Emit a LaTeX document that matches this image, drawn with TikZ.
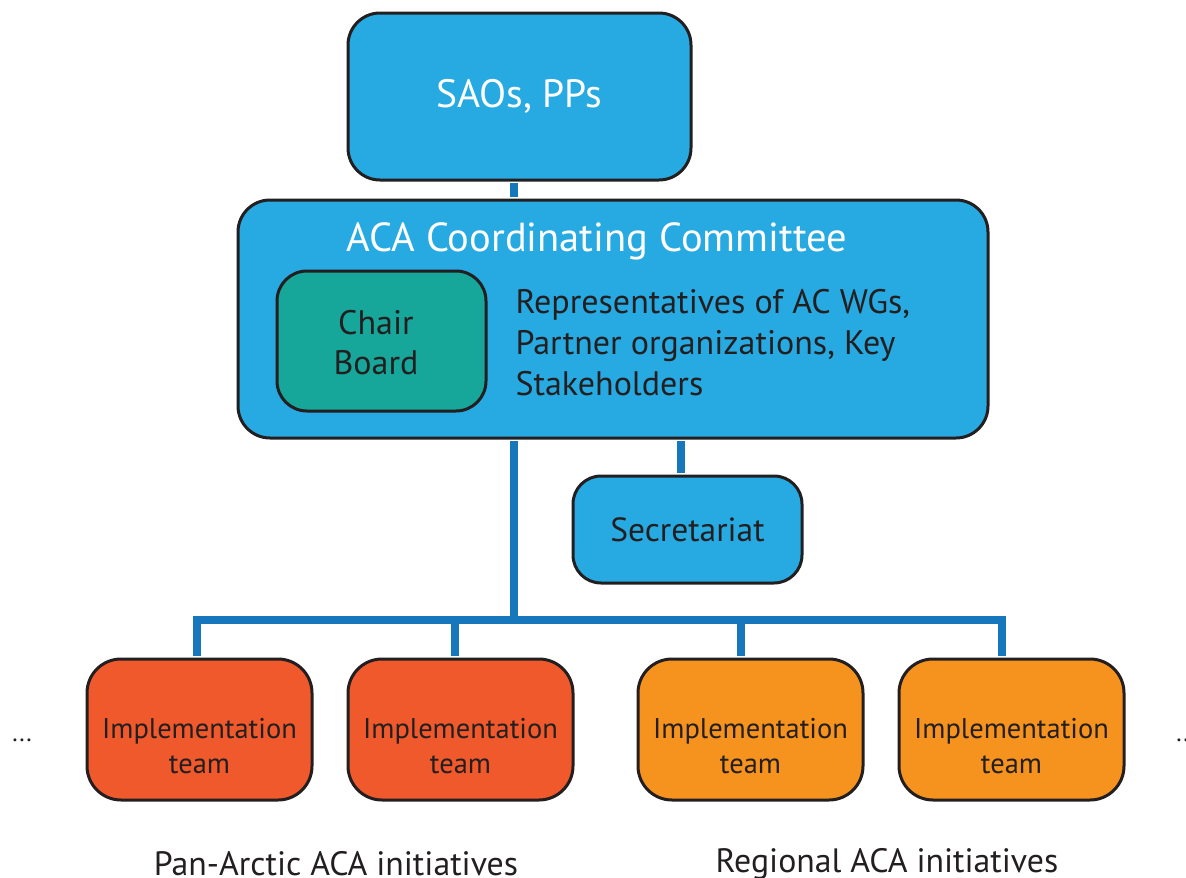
\documentclass[tikz,border=0pt]{standalone}
\usepackage{fontspec}
\setmainfont{PT Sans}
\definecolor{boxblue}{HTML}{27AAE1}
\definecolor{linkblue}{HTML}{1777BC}
\definecolor{teal}{HTML}{17A79A}
\definecolor{redor}{HTML}{F0592B}
\definecolor{orange}{HTML}{F6931F}
\definecolor{ink}{HTML}{231F20}
\tikzset{
  basebox/.style={draw=ink, line width=3pt, rounded corners=32pt, inner sep=0pt},
  bluebox/.style={basebox, fill=boxblue},
  tealbox/.style={basebox, fill=teal, rounded corners=30pt},
  teambox/.style={basebox, minimum width=225pt, minimum height=141pt, rounded corners=34pt},
  redbox/.style={teambox, fill=redor},
  orbox/.style={teambox, fill=orange},
  conn/.style={draw=linkblue, line width=8pt},
  teamtext/.style={text=ink, align=center, font=\fontsize{28.5}{35}\selectfont},
  darktext/.style={text=ink, font=\fontsize{34}{41}\selectfont},
}
\begin{document}
\begin{tikzpicture}[x=1pt, y=-1pt]
\useasboundingbox (0,0) rectangle (1186,878);
% boxes
\node[bluebox, minimum width=343pt, minimum height=167pt, text=white,
      font=\fontsize{39.5}{44}\selectfont] (sao) at (519.5,96.5) {SAOs, PPs};
\node[bluebox, minimum width=750pt, minimum height=238pt] (aca) at (613,319) {};
\node[text=white, font=\fontsize{40.5}{46}\selectfont] (acat) at (597,241) {ACA Coordinating Committee};
\node[tealbox, minimum width=209pt, minimum height=140pt] (chair) at (381.5,341) {};
\node[darktext, align=center, font=\fontsize{34}{40}\selectfont] (chairt) at (376,343) {Chair\\Board};
\node[darktext, align=left, anchor=west] (reps) at (512,343)
  {Representatives of AC WGs,\\Partner organizations, Key\\Stakeholders};
\node[bluebox, minimum width=229pt, minimum height=107pt, rounded corners=28pt,
      darktext, font=\fontsize{33.5}{40}\selectfont] (sec) at (687.5,529.5) {Secretariat};
\node[redbox] (t1) at (199.5,729.5) {};
\node[redbox] (t2) at (460.5,729.5) {};
\node[orbox] (t3) at (750.5,729.5) {};
\node[orbox] (t4) at (1011.5,729.5) {};
\foreach \t in {t1,t2,t3,t4}
  \node[teamtext] (\t txt) at ([yshift=-17pt]\t.center) {Implementation\\team};
\node[teamtext, font=\fontsize{25}{30}\selectfont] (dl) at (22,740) {...};
\node[teamtext, font=\fontsize{25}{30}\selectfont] (dr) at (1186,740) {...};
\node[darktext, font=\fontsize{33.8}{40}\selectfont] (pan) at (336,864) {Pan-Arctic ACA initiatives};
\node[darktext, font=\fontsize{33.8}{40}\selectfont] (reg) at (887,864) {Regional ACA initiatives};
% connectors
\coordinate (j) at (514,620);
\coordinate (s) at (681,500);
\coordinate (d1) at (197,620);
\coordinate (d2) at (455,620);
\coordinate (d3) at (741,620);
\coordinate (d4) at (1002,620);
\draw[conn] ([yshift=-1.5pt]sao.south -| j) -- ([yshift=1.5pt]aca.north -| j);
\draw[conn] ([yshift=-1.5pt]aca.south -| j) -- (j);
\draw[conn] ([yshift=-1.5pt]aca.south -| s) -- ([yshift=1.5pt]sec.north -| s);
\draw[conn] ([yshift=1.5pt]t1.north -| d1) -- (d1) -- (d4) -- ([yshift=1.5pt]t4.north -| d4);
\draw[conn] (d2) -- ([yshift=1.5pt]t2.north -| d2);
\draw[conn] (d3) -- ([yshift=1.5pt]t3.north -| d3);
\end{tikzpicture}
\end{document}
